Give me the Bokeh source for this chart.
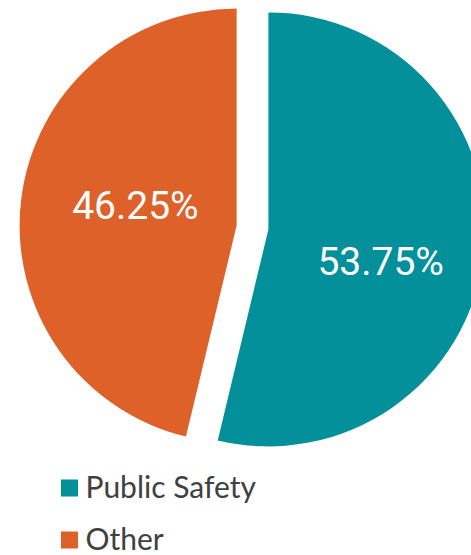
import math
from bokeh.plotting import figure
from bokeh.models import Range1d, ColumnDataSource
from bokeh.core.properties import value
from bokeh.embed import file_html
from bokeh.resources import INLINE

# data
categories = ["Public Safety", "Other"]
shares = [53.75, 46.25]
colors = ["#03909A", "#DD6129"]

# layout constants (screen-like data units, y measured upward from bottom)
W, H = 471, 555
cx, cy = 252, H - 227   # pie centre
R = 217
explode = 16
label_dist = [117, 103]
label_rot = [-9.6, -4.0]

total = sum(shares)
starts, ends, xs, ys, lx, ly, labels = [], [], [], [], [], [], []
a = 90.0  # start at 12 o'clock, go clockwise
for i, s in enumerate(shares):
    sweep = s / total * 360.0
    end = a
    start = a - sweep
    mid = math.radians((start + end) / 2)
    ox = cx + explode * math.cos(mid)
    oy = cy + explode * math.sin(mid)
    starts.append(math.radians(start))
    ends.append(math.radians(end))
    xs.append(ox)
    ys.append(oy)
    la = mid + math.radians(label_rot[i])
    lx.append(ox + label_dist[i] * math.cos(la))
    ly.append(oy + label_dist[i] * math.sin(la))
    labels.append(f"{s:.2f}%")
    a = start

src = ColumnDataSource(dict(x=xs, y=ys, start=starts, end=ends, color=colors,
                            lx=lx, ly=ly, label=labels, cat=categories))

p = figure(width=W, height=H, output_backend="svg", toolbar_location=None,
           x_range=Range1d(0, W), y_range=Range1d(0, H),
           x_axis_location=None, y_axis_location=None, min_border=0,
           outline_line_color=None)
p.grid.visible = False
p.background_fill_color = "white"

p.wedge(x="x", y="y", radius=R, start_angle="start", end_angle="end",
        fill_color="color", line_color=None, source=src)
p.text(x="lx", y="ly", text="label", text_color="white",
       text_font=value("Roboto"), text_font_size="39px",
       text_align="center", text_baseline="middle", source=src)

# legend (manual)
leg_x = 69
leg_y0 = H - 487.5
leg_dy = 52
lsrc = ColumnDataSource(dict(
    x=[leg_x] * len(categories),
    y=[leg_y0 - i * leg_dy for i in range(len(categories))],
    tx=[85] * len(categories),
    ty=[leg_y0 + 2 - i * leg_dy for i in range(len(categories))],
    color=colors, cat=categories))
p.rect(x="x", y="y", width=17, height=17, fill_color="color", line_color=None, source=lsrc)
p.text(x="tx", y="ty", text="cat", text_color="#404040",
       text_font=value("Lato"), text_font_size="30px",
       text_align="left", text_baseline="middle", source=lsrc)

open("out.html", "w").write(file_html(p, INLINE))
